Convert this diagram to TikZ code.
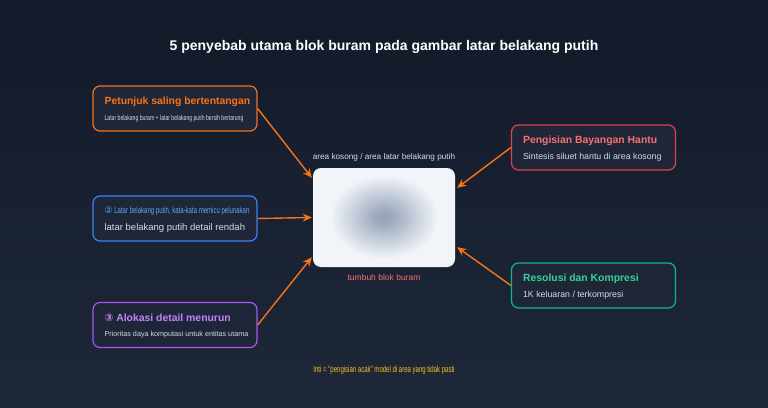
\documentclass[tikz,border=0pt]{standalone}
\usepackage{fontspec}
\setmainfont{Liberation Sans}
\newfontfamily\narrowfont[FakeStretch=0.7]{Liberation Sans}
\newfontfamily\narrowerfont[FakeStretch=0.67]{Liberation Sans}
\newfontfamily\circfont{DejaVu Sans}
\usetikzlibrary{positioning,calc,arrows.meta}

\definecolor{bgtop}{HTML}{131A2A}
\definecolor{bgbot}{HTML}{1E2839}
\definecolor{cardbg}{HTML}{1F2637}
\definecolor{subgray}{HTML}{D5DCE6}
\definecolor{arrow}{HTML}{F97316}
\definecolor{orangeb}{HTML}{F07020}
\definecolor{blueb}{HTML}{3B82F6}
\definecolor{bluet}{HTML}{60A5FA}
\definecolor{purpb}{HTML}{A855F7}
\definecolor{purpt}{HTML}{C084FC}
\definecolor{redb}{HTML}{D9444A}
\definecolor{redt}{HTML}{F87171}
\definecolor{greenb}{HTML}{10B981}
\definecolor{greent}{HTML}{34D399}
\definecolor{boxw}{HTML}{F1F5F9}
\definecolor{blobc}{HTML}{98A5B9}
\definecolor{footy}{HTML}{FBBF24}

\pgfdeclareradialshading{blob}{\pgfpoint{0bp}{0bp}}{color(0bp)=(blobc); color(4bp)=(blobc!94!boxw); color(25bp)=(boxw); color(50bp)=(boxw)}

\tikzset{
  card/.style={draw=#1, line width=1.2pt, rounded corners=7pt, fill=cardbg,
    minimum width=164pt, minimum height=45pt, inner sep=0pt},
  head/.style={anchor=west, inner sep=0pt, font=\bfseries\fontsize{10.4}{12}\selectfont},
  sub/.style={anchor=west, inner sep=0pt, text=subgray, font=\fontsize{8.8}{10}\selectfont},
  arr/.style={-{Stealth[length=9pt,width=8pt]}, draw=arrow, line width=1.4pt},
}

\begin{document}
\begin{tikzpicture}[x=1pt,y=-1pt]
  \useasboundingbox (0,0) rectangle (768,407);
  % dark background
  \shade[top color=bgtop, bottom color=bgbot] (0,0) rectangle (768,407);

  \node[text=white, font=\bfseries\fontsize{14}{17}\selectfont] (title) at (384,47)
    {5 penyebab utama blok buram pada gambar latar belakang putih};

  % left cards
  \node[card=orangeb] (p1) at (175,108.5) {};
  \node[head, text=arrow] at ([xshift=12pt,yshift=7pt]p1.west) {Petunjuk saling bertentangan};
  \node[sub, font=\narrowfont\fontsize{7.3}{9}\selectfont] at ([xshift=12pt,yshift=-10pt]p1.west)
    {Latar belakang buram + latar belakang putih bersih bertarung};

  \node[card=blueb] (p2) at (175,218.5) {};
  \node[head, text=bluet, font=\narrowerfont\fontsize{9}{10}\selectfont] at ([xshift=12pt,yshift=7pt]p2.west)
    {{\circfont ②} Latar belakang putih, kata-kata memicu pelunakan};
  \node[sub, font=\fontsize{9.5}{11}\selectfont] at ([xshift=12pt,yshift=-10pt]p2.west)
    {latar belakang putih detail rendah};

  \node[card=purpb] (p3) at (175,325) {};
  \node[head, text=purpt] at ([xshift=12pt,yshift=7pt]p3.west) {{\circfont ③} Alokasi detail menurun};
  \node[sub, font=\fontsize{7.2}{9}\selectfont] at ([xshift=12pt,yshift=-10pt]p3.west)
    {Prioritas daya komputasi untuk entitas utama};

  % right cards
  \node[card=redb] (p4) at (593.5,147.5) {};
  \node[head, text=redt] at ([xshift=12pt,yshift=7pt]p4.west) {Pengisian Bayangan Hantu};
  \node[sub] at ([xshift=12pt,yshift=-10pt]p4.west) {Sintesis siluet hantu di area kosong};

  \node[card=greenb] (p5) at (593.5,285.5) {};
  \node[head, text=greent] at ([xshift=12pt,yshift=7pt]p5.west) {Resolusi dan Kompresi};
  \node[sub] at ([xshift=12pt,yshift=-10pt]p5.west) {1K keluaran / terkompresi};

  % the white image with its blur
  \node[fill=boxw, rounded corners=8pt, minimum width=142pt, minimum height=99pt] (img) at (384,217.5) {};
  \shade[shading=blob] (384,217) ellipse (54 and 42);
  \node[above=6pt of img, inner sep=0pt, text=subgray, font=\fontsize{8.2}{10}\selectfont] (lbltop)
    {area kosong / area latar belakang putih};
  \node[below=7pt of img, inner sep=0pt, text=redt, font=\fontsize{8.5}{10}\selectfont] (lblbot)
    {tumbuh blok buram};

  % arrow targets on the image
  \coordinate (in1) at ($(img.north west)+(-1,10)$);
  \coordinate (in2) at ($(img.west)+(-1,0)$);
  \coordinate (in3) at ($(img.south west)+(-1,-10)$);
  \coordinate (in4) at ($(img.north east)+(2,20)$);
  \coordinate (in5) at ($(img.south east)+(2,-20)$);
  \foreach \s/\t in {p1.east/in1, p2.east/in2, p3.east/in3, p4.west/in4, p5.west/in5}
    \draw[arr] (\s) -- (\t);

  \node[text=footy, font=\narrowerfont\fontsize{9}{10}\selectfont] (core) at (384,370)
    {Inti = "pengisian acak" model di area yang tidak pasti};
\end{tikzpicture}
\end{document}
